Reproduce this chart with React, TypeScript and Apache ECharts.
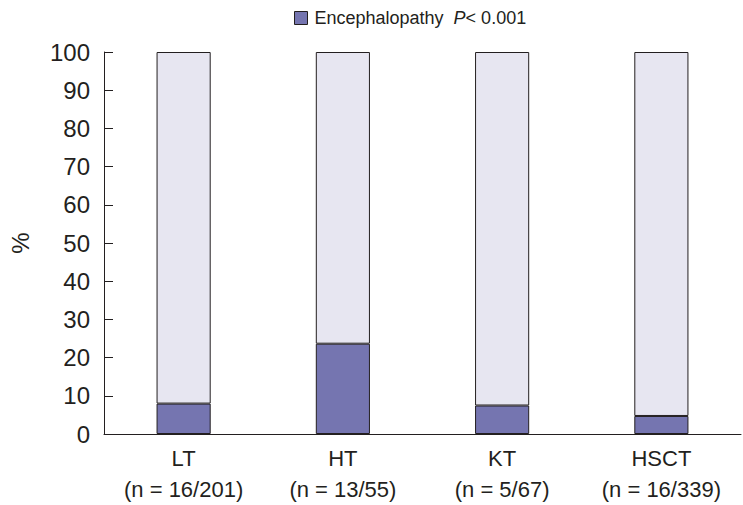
import React, { useEffect, useRef } from "react";
import * as echarts from "echarts";

const categories = ["LT\n(n = 16/201)", "HT\n(n = 13/55)", "KT\n(n = 5/67)", "HSCT\n(n = 16/339)"];
const encephalopathy = [7.96, 23.64, 7.46, 4.72];
const yTicks = [0, 10, 20, 30, 40, 50, 60, 70, 80, 90, 100];

const FONT = "Liberation Sans, Arial, sans-serif";
const INK = "#231f20";

export default function App() {
  const ref = useRef<HTMLDivElement>(null);
  useEffect(() => {
    if (!ref.current) return;
    const chart = echarts.init(ref.current, null, { renderer: "svg" });
    const remainder = encephalopathy.map((v) => 100 - v);
    chart.setOption({
      animation: false,
      textStyle: { fontFamily: FONT },
      legend: {
        data: ["Encephalopathy"],
        top: 4,
        left: 289,
        itemWidth: 13,
        itemHeight: 13,
        itemGap: 6,
        icon: "rect",
        itemStyle: { borderColor: INK, borderWidth: 1 },
        formatter: () => "Encephalopathy {i|P}{n|< 0.001}",
        textStyle: {
          fontFamily: FONT,
          fontSize: 18,
          color: INK,
          padding: [0, 0, 0, 2],
          rich: {
            i: { fontStyle: "italic", fontSize: 18, fontFamily: FONT, color: INK, padding: [0, 0, 0, 5] },
            n: { fontSize: 18, fontFamily: FONT, color: INK },
          },
        },
      },
      grid: { left: 97, right: 2, top: 52, bottom: 71 },
      xAxis: {
        type: "category",
        data: categories,
        axisLine: { lineStyle: { color: INK, width: 1 } },
        axisTick: { inside: true, length: 9, interval: 0, lineStyle: { color: INK } },
        axisLabel: { interval: 0, fontSize: 22, color: INK, lineHeight: 31, margin: 9, fontFamily: FONT },
      },
      yAxis: {
        type: "value",
        min: yTicks[0],
        max: yTicks[yTicks.length - 1],
        interval: 10,
        name: "%",
        nameLocation: "middle",
        nameRotate: 90,
        nameGap: 72,
        nameTextStyle: { fontSize: 24, color: INK, fontFamily: FONT },
        axisLine: { show: true, lineStyle: { color: INK, width: 1 } },
        axisTick: { show: true, inside: true, length: 9, lineStyle: { color: INK } },
        axisLabel: { fontSize: 24, color: INK, margin: 14, fontFamily: FONT },
        splitLine: { show: false },
      },
      series: [
        {
          name: "Encephalopathy",
          type: "bar",
          stack: "a",
          barWidth: "34%",
          data: encephalopathy,
          itemStyle: { color: "#7575b0", borderColor: INK, borderWidth: 1 },
        },
        {
          name: "Other",
          type: "bar",
          stack: "a",
          barWidth: "34%",
          data: remainder,
          itemStyle: { color: "#e7e6f1", borderColor: INK, borderWidth: 1 },
        },
      ],
    });
    return () => chart.dispose();
  }, []);
  return <div ref={ref} style={{ width: 743, height: 505, position: "absolute", left: 0, top: 0 }} />;
}
